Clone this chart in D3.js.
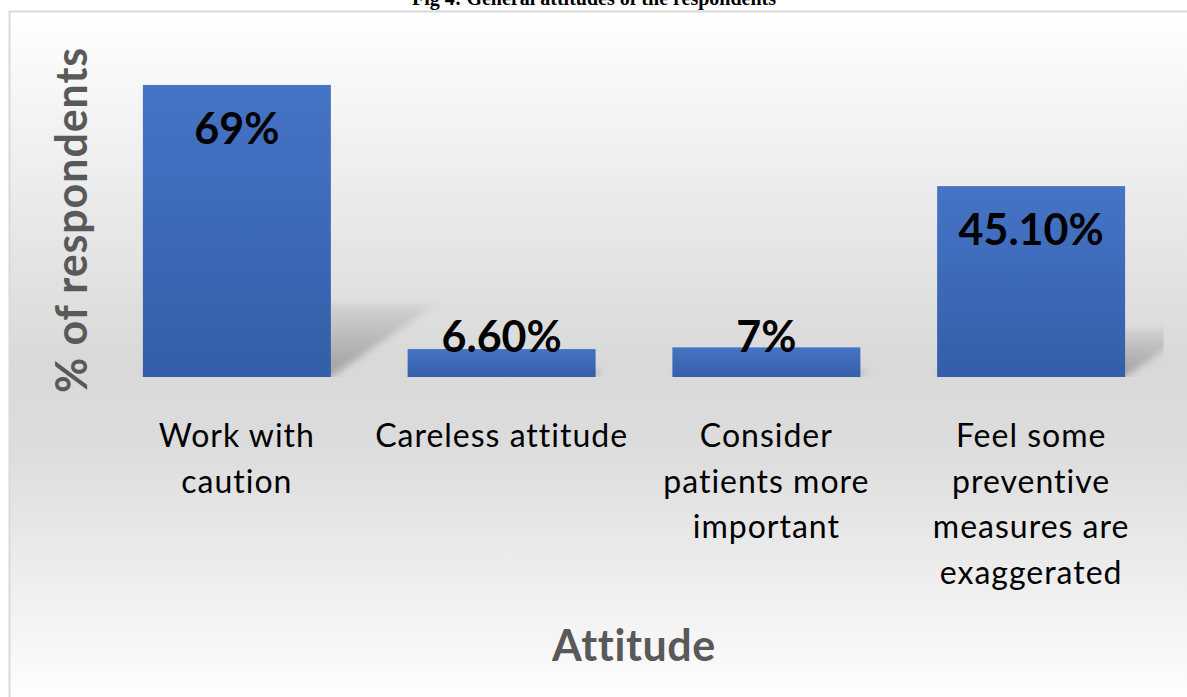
<!DOCTYPE html>
<html>
<head>
<meta charset="utf-8">
<script src="https://cdn.jsdelivr.net/npm/d3@7"></script>
<style>
  html, body { margin: 0; padding: 0; background: #ffffff; }
  svg { display: block; }
  text { font-variant-ligatures: none; }
</style>
</head>
<body>
<svg id="chart" width="1187" height="697"></svg>
<script>
// ---- data ----
const categories = [
  "Work with caution",
  "Careless attitude",
  "Consider patients more important",
  "Feel some preventive measures are exaggerated"
];
const categoryLines = [
  ["Work with", "caution"],
  ["Careless attitude"],
  ["Consider", "patients more", "important"],
  ["Feel some", "preventive", "measures are", "exaggerated"]
];
const values = [69, 6.6, 7, 45.1];
const valueLabels = ["69%", "6.60%", "7%", "45.10%"];
const chartTitle = "Fig 4: General attitudes of the respondents";
const xTitle = "Attitude";
const yTitle = "% of respondents";

// ---- layout ----
const W = 1187, H = 697;
const svg = d3.select("#chart");
const defs = svg.append("defs");

const plot = { left: 104.5, right: 1163.5, top: 38.4, bottom: 377 };

const x = d3.scaleBand()
  .domain(categories)
  .range([plot.left, plot.right])
  .paddingInner(0.29)
  .paddingOuter(0.145);

const y = d3.scaleLinear()
  .domain([0, 80])
  .range([plot.bottom, plot.top]);

// background gradient
const bg = defs.append("linearGradient").attr("id", "bgGrad")
  .attr("x1", 0).attr("y1", 0).attr("x2", 0).attr("y2", 1);
bg.append("stop").attr("offset", "0%").attr("stop-color", "#ffffff");
bg.append("stop").attr("offset", "50%").attr("stop-color", "#d9d9d9");
bg.append("stop").attr("offset", "62%").attr("stop-color", "#dcdcdc");
bg.append("stop").attr("offset", "100%").attr("stop-color", "#ffffff");

svg.append("rect")
  .attr("x", 9.5).attr("y", 11.5)
  .attr("width", W).attr("height", H)
  .attr("fill", "url(#bgGrad)")
  .attr("stroke", "#d9d9d9")
  .attr("stroke-width", 2);

// title (partly cut off at top, as in the source figure)
svg.append("text")
  .attr("x", 594).attr("y", 5)
  .attr("text-anchor", "middle")
  .attr("font-family", "'Liberation Serif', 'Times New Roman', serif")
  .attr("font-weight", "bold")
  .attr("font-size", 20)
  .attr("fill", "#000")
  .text(chartTitle);

// bar gradient
const barGrad = defs.append("linearGradient").attr("id", "barGrad")
  .attr("x1", 0).attr("y1", 0).attr("x2", 0).attr("y2", 1);
barGrad.append("stop").attr("offset", "0%").attr("stop-color", "#4674c6");
barGrad.append("stop").attr("offset", "100%").attr("stop-color", "#335ea8");

// shadow
const shGrad = defs.append("linearGradient").attr("id", "shGrad")
  .attr("x1", 0).attr("y1", 1).attr("x2", 0).attr("y2", 0);
shGrad.append("stop").attr("offset", "0%").attr("stop-color", "#7a7a7a").attr("stop-opacity", 0.6);
shGrad.append("stop").attr("offset", "100%").attr("stop-color", "#7a7a7a").attr("stop-opacity", 0.12);

const blur = defs.append("filter").attr("id", "blur")
  .attr("x", "-30%").attr("y", "-30%").attr("width", "160%").attr("height", "160%");
blur.append("feGaussianBlur").attr("stdDeviation", 3.5);

defs.append("clipPath").attr("id", "plotClip")
  .append("rect")
  .attr("x", plot.left).attr("y", 0)
  .attr("width", plot.right - plot.left)
  .attr("height", plot.bottom);

const shadowG = svg.append("g").attr("clip-path", "url(#plotClip)");
shadowG.selectAll("polygon")
  .data(values)
  .join("polygon")
  .attr("points", (d, i) => {
    const x0 = x(categories[i]), x1 = x0 + x.bandwidth();
    const barH = y(0) - y(d);
    const sh = barH * 0.25;
    const dx = sh * 1.45;
    return [[x0, y(0)], [x1, y(0)], [x1 + dx, y(0) - sh], [x0 + dx, y(0) - sh]]
      .map(p => p.join(",")).join(" ");
  })
  .attr("fill", "url(#shGrad)")
  .attr("filter", "url(#blur)");

// bars
svg.append("g").selectAll("rect")
  .data(values)
  .join("rect")
  .attr("x", (d, i) => x(categories[i]))
  .attr("y", d => y(d))
  .attr("width", x.bandwidth())
  .attr("height", d => y(0) - y(d))
  .attr("fill", "url(#barGrad)");

// value labels
svg.append("g").selectAll("text")
  .data(values)
  .join("text")
  .attr("x", (d, i) => x(categories[i]) + x.bandwidth() / 2)
  .attr("y", d => Math.min(y(d) + 59, y(0) - 25))
  .attr("text-anchor", "middle")
  .attr("font-family", "Lato, 'Open Sans', sans-serif")
  .attr("font-weight", "bold")
  .attr("font-size", 43)
  .attr("fill", "#000")
  .text((d, i) => valueLabels[i]);

// category labels
const catG = svg.append("g");
categories.forEach((c, i) => {
  const t = catG.append("text")
    .attr("x", x(c) + x.bandwidth() / 2)
    .attr("y", 447)
    .attr("text-anchor", "middle")
    .attr("font-family", "Lato, 'Open Sans', sans-serif")
    .attr("font-size", 32)
    .attr("letter-spacing", 1.0)
    .attr("fill", "#000");
  categoryLines[i].forEach((ln, j) => {
    t.append("tspan")
      .attr("x", x(c) + x.bandwidth() / 2)
      .attr("dy", j === 0 ? 0 : 45.5)
      .text(ln);
  });
});

// axis titles
svg.append("text")
  .attr("x", 634).attr("y", 661)
  .attr("text-anchor", "middle")
  .attr("font-family", "Lato, 'Open Sans', sans-serif")
  .attr("font-weight", "bold")
  .attr("font-size", 43)
  .attr("letter-spacing", 0.6)
  .attr("fill", "#595959")
  .text(xTitle);

svg.append("text")
  .attr("transform", "translate(87,220) rotate(-90)")
  .attr("text-anchor", "middle")
  .attr("font-family", "Lato, 'Open Sans', sans-serif")
  .attr("font-weight", "bold")
  .attr("font-size", 43)
  .attr("letter-spacing", 0.9)
  .attr("fill", "#595959")
  .text(yTitle);
</script>
</body>
</html>
